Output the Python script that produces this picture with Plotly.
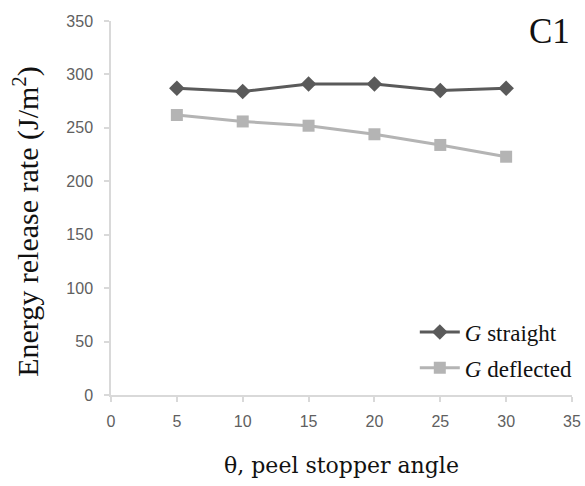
import plotly.graph_objects as go

# Peel stopper angle (degrees)
angles = [5, 10, 15, 20, 25, 30]
# Energy release rate, J/m^2
g_straight = [287, 284, 291, 291, 285, 287]
g_deflected = [262, 256, 252, 244, 234, 223]

x_ticks = [0, 5, 10, 15, 20, 25, 30, 35]
y_ticks = [0, 50, 100, 150, 200, 250, 300, 350]

SERIF = "Liberation Serif, Times New Roman, serif"

fig = go.Figure()
fig.add_trace(go.Scatter(
    x=angles, y=g_straight, mode="lines+markers", name="<i>G</i> straight",
    legendgroup="straight",
    line=dict(color="#5a5a5a", width=3),
    marker=dict(symbol="diamond", size=12, color="#5a5a5a"),
))
fig.add_trace(go.Scatter(
    x=angles, y=g_deflected, mode="lines+markers", name="<i>G</i> deflected",
    legendgroup="deflected",
    line=dict(color="#b4b4b4", width=3),
    marker=dict(symbol="square", size=12, color="#b4b4b4"),
))

tick_font = dict(family="Liberation Sans, Arial, sans-serif", size=16, color="#606060")
axis_common = dict(
    showgrid=False, zeroline=False, showline=True, linecolor="#d9d9d9", linewidth=1.5,
    ticks="outside", ticklen=5, tickcolor="#d9d9d9", tickwidth=1.5, tickfont=tick_font,
    automargin=False,
)

fig.update_layout(
    width=585, height=486,
    margin=dict(l=111, r=13, t=21, b=91, autoexpand=False),
    paper_bgcolor="white", plot_bgcolor="white",
    font=dict(family=SERIF, color="#111111"),
    xaxis=dict(
        range=[0, 35], tickvals=x_ticks, ticklabelstandoff=6,
        title=dict(text="θ, peel stopper angle",
                   font=dict(family="DejaVu Serif, serif", size=22), standoff=29),
        **axis_common,
    ),
    yaxis=dict(range=[0, 350], tickvals=y_ticks, ticklabelstandoff=8, **axis_common),
    legend=dict(
        x=0.659, xanchor="left", y=0.226, yanchor="top",
        font=dict(family=SERIF, size=23, color="#111111"),
        bgcolor="rgba(0,0,0,0)", itemwidth=40, tracegroupgap=3,
    ),
    showlegend=True,
    annotations=[
        dict(
            text="Energy release rate (J/m<sup>2</sup>)", textangle=-90,
            xref="paper", yref="paper", x=-0.185, y=0.465,
            xanchor="center", yanchor="middle", showarrow=False,
            font=dict(family=SERIF, size=30, color="#111111"),
        ),
        dict(
            text="C1", xref="paper", yref="paper", x=1.0, y=0.972,
            xanchor="right", yanchor="middle", showarrow=False,
            font=dict(family=SERIF, size=35, color="#111111"),
        ),
    ],
)

fig.write_html("out.html")
